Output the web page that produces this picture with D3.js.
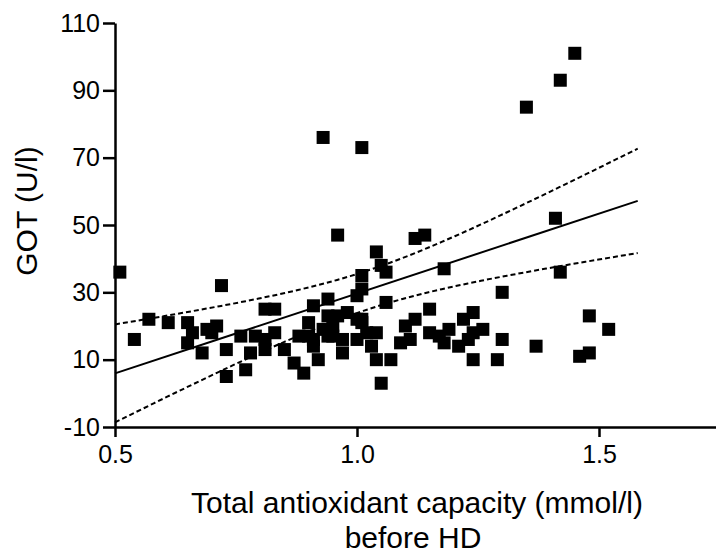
<!DOCTYPE html>
<html lang="en">
  <head>
    <meta charset="utf-8" />
    <title>GOT vs total antioxidant capacity</title>
    <style>
      body {
        margin: 0;
        background: #fff;
      }
      svg text {
        font-family: 'Liberation Sans', Arial, sans-serif;
        fill: #000;
      }
      .axis path,
      .axis line {
        stroke: #000;
        stroke-width: 2.5;
      }
    </style>
    <script src="https://d3js.org/d3.v7.min.js"></script>
  </head>

  <body>
    <svg width="716" height="557"></svg>

    <script>
      // total antioxidant capacity (mmol/l)
      const tac = [
        0.93, 1.01, 1.45, 1.42, 1.35, 1.41,
        0.51, 0.54, 0.57, 0.61, 0.65, 0.66, 0.65, 0.68, 0.69, 0.71,
        0.70, 0.72, 0.73, 0.73, 0.76, 0.77, 0.78, 0.79, 0.81, 0.83,
        0.81, 0.81, 0.83, 0.85, 0.87, 0.89, 0.91, 0.88, 0.90, 0.90,
        0.91, 0.91, 0.92, 0.94, 0.94, 0.93, 0.95, 0.94, 0.95, 0.97,
        0.97, 0.98, 0.96, 1.00, 1.00, 1.00, 0.96,
        1.12, 1.14, 1.04, 1.05, 1.06, 1.01, 1.01, 1.18, 1.42, 1.30,
        1.06, 1.15, 1.24, 1.22, 1.12, 1.10, 1.48, 1.52, 1.26, 1.24,
        1.19, 1.15, 1.17, 1.18, 1.23, 1.21, 1.11, 1.09, 1.30, 1.37,
        1.48, 1.46, 1.24, 1.29, 1.04, 1.07, 1.05, 1.03, 1.04, 1.02,
        1.01, 1.01,
      ];
      // GOT (U/l)
      const got = [
        76, 73, 101, 93, 85, 52,
        36, 16, 22, 21, 21, 18, 15, 12, 19, 20,
        18, 32, 13, 5, 17, 7, 12, 17, 25, 25,
        16, 13, 18, 13, 9, 6, 26, 17, 21, 17,
        16, 14, 10, 28, 23, 19, 20, 17, 17, 12,
        16, 24, 23, 29, 22, 16, 47,
        46, 47, 42, 38, 36, 35, 31, 37, 36, 30,
        27, 25, 24, 22, 22, 20, 23, 19, 19, 18,
        19, 18, 17, 15, 16, 14, 16, 15, 16, 14,
        12, 11, 10, 10, 10, 10, 3, 14, 18, 18,
        22, 21,
      ];

      // linear fit and 95% confidence band
      const fitRange = [0.5, 1.58];
      const intercept = -17.8;
      const slope = 47.45;
      const xMean = 1.02;
      const ciA = 33.3; // band half-width^2 = ciA + ciB*(x - xMean)^2
      const ciB = 660;

      const xTicks = [0.5, 1.0, 1.5];
      const yTicks = [-10, 10, 30, 50, 70, 90, 110];

      const svg = d3.select('svg');

      const x = d3.scaleLinear().domain([0.5, 1.75]).range([115, 720]);
      const y = d3.scaleLinear().domain([-10, 110]).range([427, 23]);

      const fitY = (v) => intercept + slope * v;
      const half = (v) => 1.96 * Math.sqrt((ciA + ciB * (v - xMean) ** 2) / 3.8416);
      const xs = d3.range(0, 41).map(
        (i) => fitRange[0] + ((fitRange[1] - fitRange[0]) * i) / 40,
      );

      const line = d3
        .line()
        .x((d) => x(d[0]))
        .y((d) => y(d[1]));

      // points
      const pts = tac.map((v, i) => [v, got[i]]);
      const s = 13;
      svg
        .append('g')
        .selectAll('rect')
        .data(pts)
        .join('rect')
        .attr('x', (d) => x(d[0]) - s / 2)
        .attr('y', (d) => y(d[1]) - s / 2)
        .attr('width', s)
        .attr('height', s)
        .attr('fill', '#000');

      // regression line
      svg
        .append('path')
        .datum(fitRange.map((v) => [v, fitY(v)]))
        .attr('d', line)
        .attr('fill', 'none')
        .attr('stroke', '#000')
        .attr('stroke-width', 2);

      // confidence band
      [1, -1].forEach((sign) => {
        svg
          .append('path')
          .datum(xs.map((v) => [v, fitY(v) + sign * half(v)]))
          .attr('d', line)
          .attr('fill', 'none')
          .attr('stroke', '#000')
          .attr('stroke-width', 2)
          .attr('stroke-dasharray', '5,3');
      });

      // axes
      svg
        .append('g')
        .attr('class', 'axis')
        .attr('transform', 'translate(0,427)')
        .call(
          d3
            .axisBottom(x)
            .tickValues(xTicks)
            .tickFormat(d3.format('.1f'))
            .tickSize(10)
            .tickSizeOuter(0)
            .tickPadding(8),
        )
        .call((g) => g.selectAll('text').style('font-size', '25px'));

      svg
        .append('g')
        .attr('class', 'axis')
        .attr('transform', 'translate(115,0)')
        .call(
          d3
            .axisLeft(y)
            .tickValues(yTicks)
            .tickFormat((d) => d)
            .tickSize(12)
            .tickSizeOuter(0)
            .tickPadding(3),
        )
        .call((g) => g.selectAll('text').style('font-size', '25px'));

      // titles
      svg
        .append('text')
        .attr('transform', 'translate(37,211) rotate(-90)')
        .attr('text-anchor', 'middle')
        .style('font-size', '30px')
        .text('GOT (U/l)');

      svg
        .append('text')
        .attr('x', 417)
        .attr('y', 513)
        .attr('text-anchor', 'middle')
        .style('font-size', '30px')
        .text('Total antioxidant capacity (mmol/l)');

      svg
        .append('text')
        .attr('x', 413)
        .attr('y', 548)
        .attr('text-anchor', 'middle')
        .style('font-size', '30px')
        .text('before HD');
    </script>
  </body>
</html>
